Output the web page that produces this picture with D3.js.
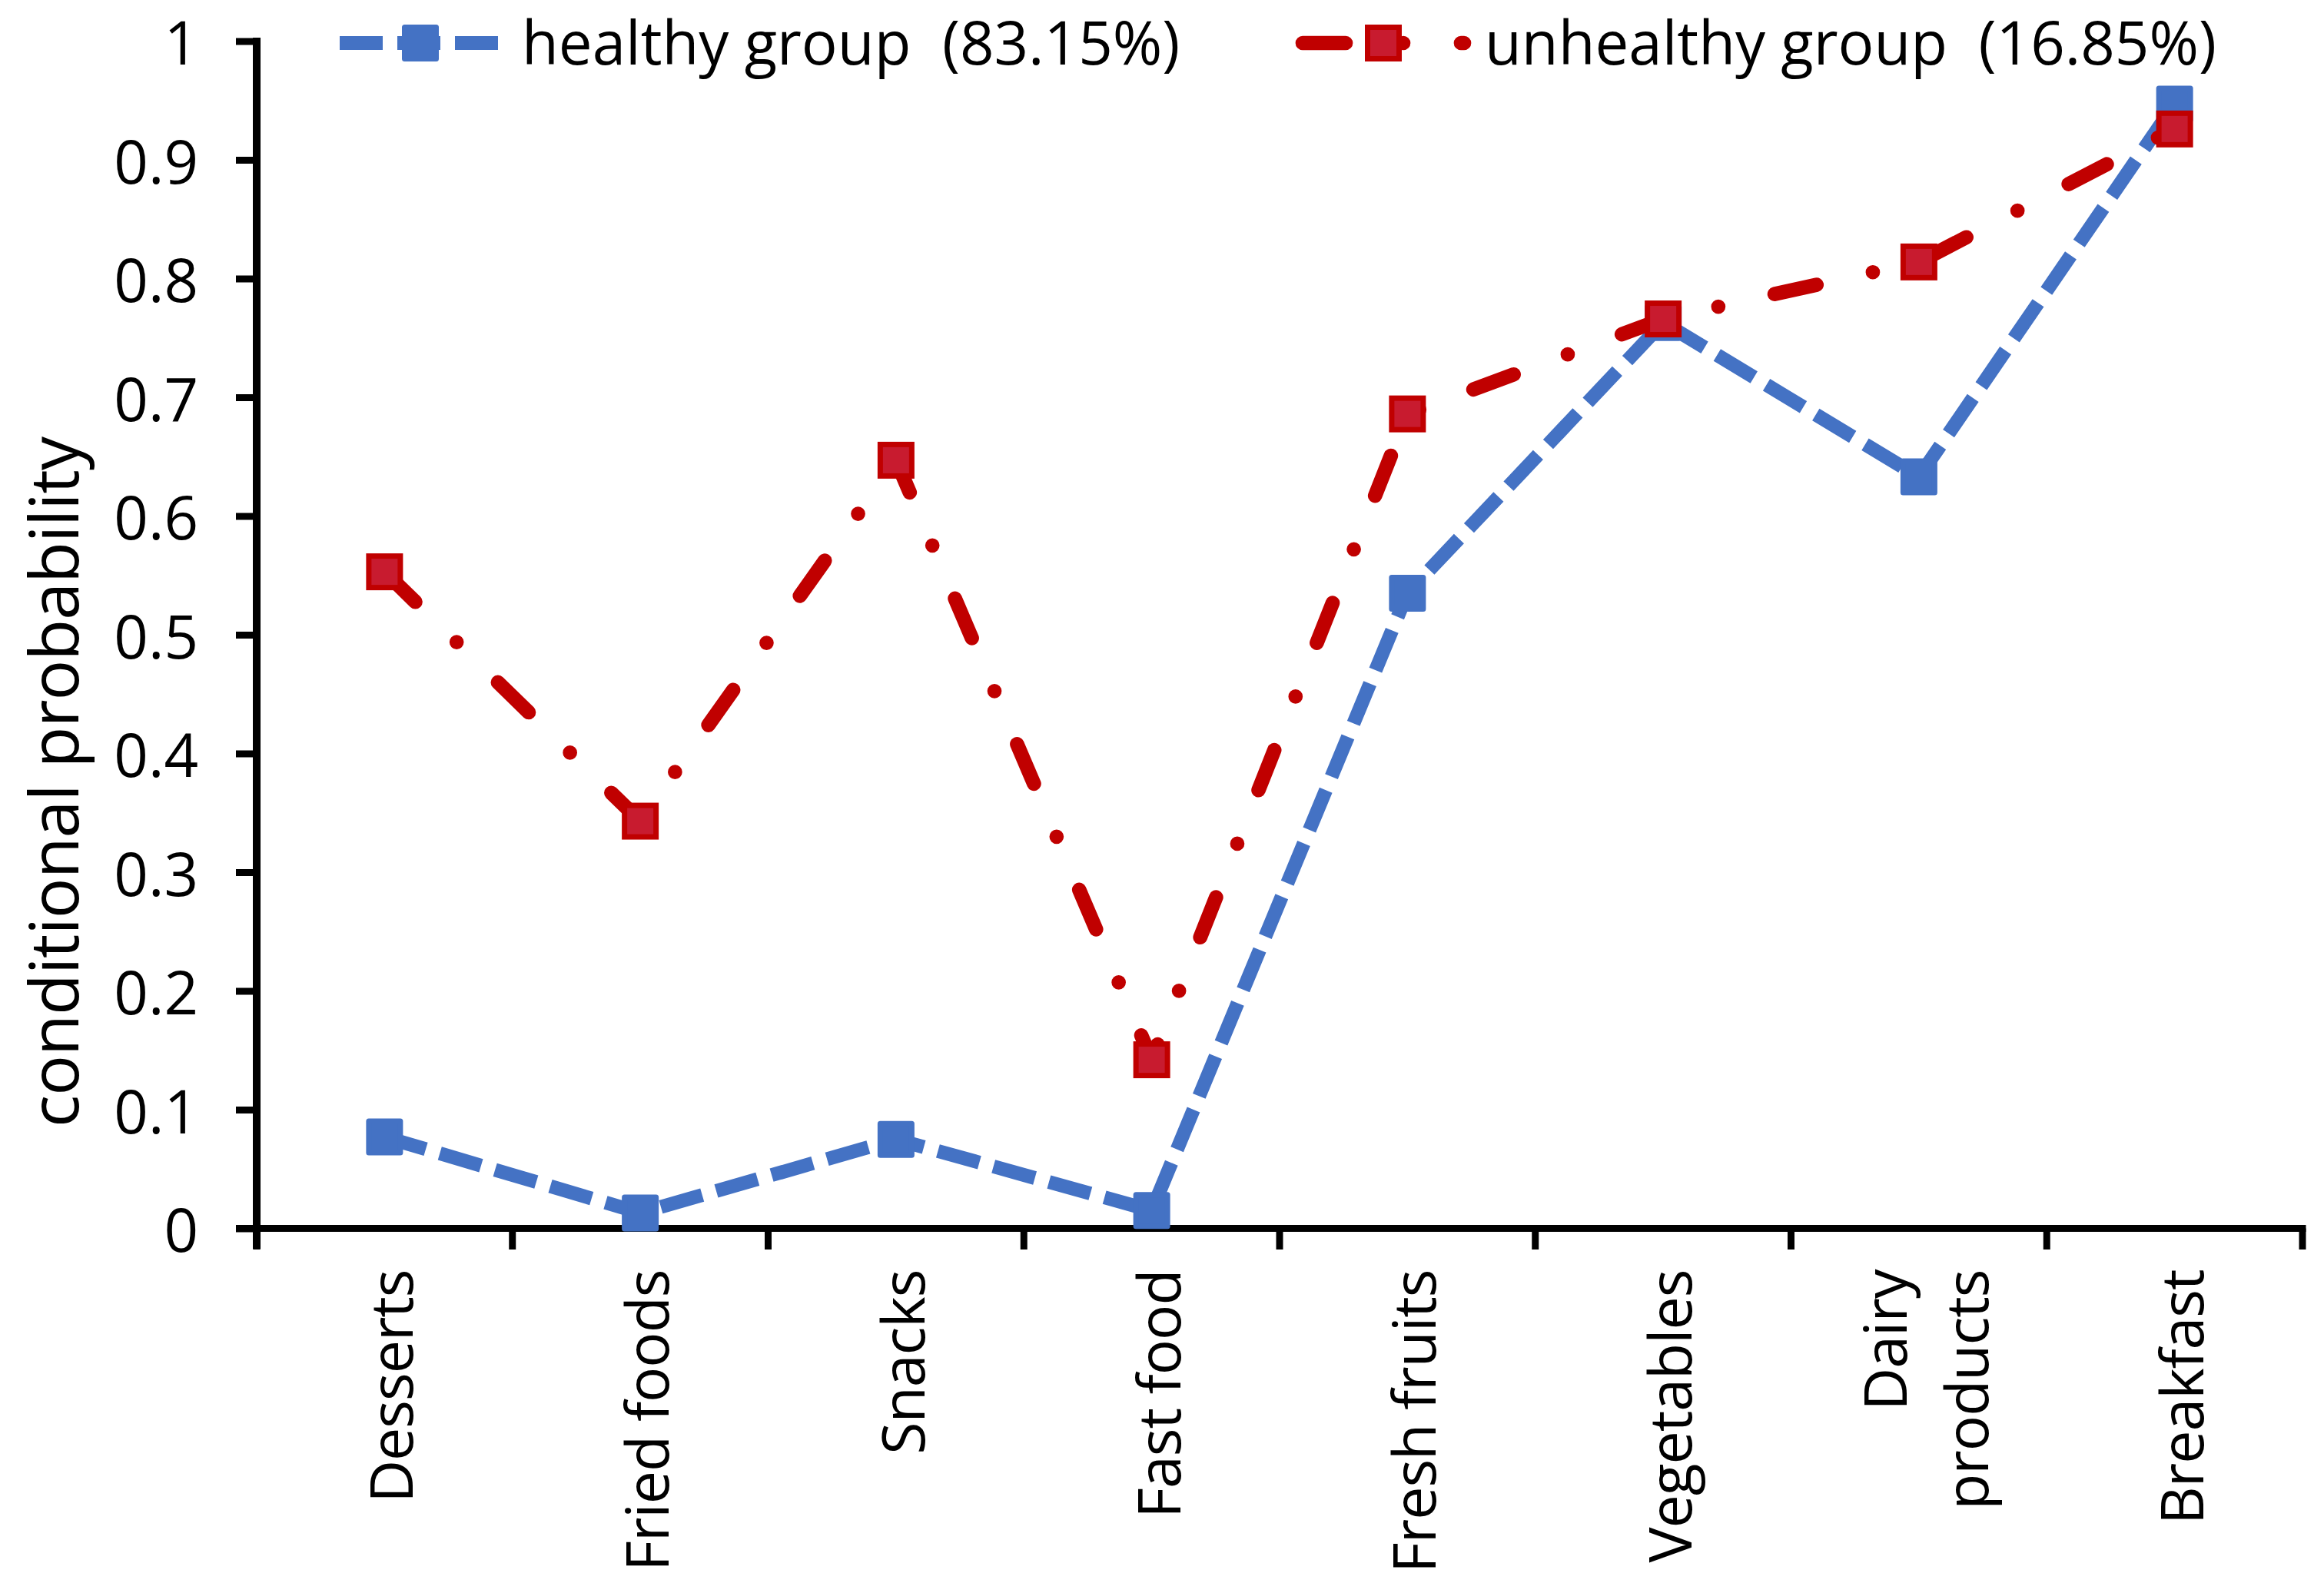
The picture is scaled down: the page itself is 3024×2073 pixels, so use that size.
<!DOCTYPE html>
<html lang="en">
<head>
  <meta charset="UTF-8">
  <title>Conditional probability by group</title>
  <script src="https://d3js.org/d3.v7.min.js"></script>
  <style>
    html, body {
      margin: 0;
      padding: 0;
      background: white;
    }
    svg {
      display: block;
      font-family: "Open Sans", "Noto Sans", sans-serif;
    }
    .cat-label {
      font-size: 77px;
      letter-spacing: -1px;
      fill: black;
    }
    .tick-label {
      font-size: 78px;
      fill: black;
    }
    .legend-text {
      font-size: 78px;
      white-space: pre;
      fill: black;
    }
    .y-title {
      font-size: 88px;
      letter-spacing: -1px;
    }
  </style>
</head>
<body>
  <svg id="chart"></svg>
  <script>
    const categories = ["Desserts", "Fried foods", "Snacks", "Fast food",
      "Fresh fruits", "Vegetables", "Dairy products", "Breakfast"];
    const healthy = [0.077, 0.013, 0.075, 0.015, 0.535, 0.763, 0.633, 0.947];
    const unhealthy = [0.553, 0.343, 0.647, 0.142, 0.686, 0.766, 0.814, 0.926];
    const seriesNames = ["healthy group  (83.15%)", "unhealthy group  (16.85%)"];
    const yTicks = [0, 0.1, 0.2, 0.3, 0.4, 0.5, 0.6, 0.7, 0.8, 0.9, 1];
    const yTitle = "conditional probability";

    const width = 3024;
    const height = 2073;
    const margin = { top: 53.5, right: 28, bottom: 474.5, left: 334 };

    const blue = "#4472C4";
    const red = "#C00000";
    const redFill = "#C81B2F";

    const svg = d3.select("#chart")
      .attr("width", width)
      .attr("height", height);

    const x = d3.scaleBand()
      .domain(categories)
      .range([margin.left, width - margin.right]);
    const y = d3.scaleLinear()
      .domain([0, 1])
      .range([height - margin.bottom, margin.top]);

    // y axis
    const yAxis = svg.append("g")
      .attr("transform", `translate(${margin.left},0)`)
      .call(d3.axisLeft(y).tickValues(yTicks).tickSize(27).tickPadding(49)
        .tickFormat(d => d3.format("~g")(d)))
      .attr("font-family", null)
      .attr("font-size", null);
    yAxis.select(".domain").remove();
    yAxis.selectAll(".tick line").attr("stroke", "black").attr("stroke-width", 9);
    yAxis.selectAll(".tick text")
      .attr("class", "tick-label")
      .attr("dy", 30);
    yAxis.append("line")
      .attr("x1", 0).attr("x2", 0)
      .attr("y1", y(1) - 4.5).attr("y2", y(0) + 27)
      .attr("stroke", "black").attr("stroke-width", 10);

    // x axis with ticks on category boundaries
    const edges = categories.map(c => x(c)).concat([x.range()[1]]);
    const xAxis = svg.append("g");
    xAxis.append("line")
      .attr("x1", margin.left - 27).attr("x2", x.range()[1] + 4.5)
      .attr("y1", y(0)).attr("y2", y(0))
      .attr("stroke", "black").attr("stroke-width", 9);
    xAxis.selectAll(".xtick").data(edges).join("line")
      .attr("class", "xtick")
      .attr("x1", d => d).attr("x2", d => d)
      .attr("y1", y(0)).attr("y2", y(0) + 27.5)
      .attr("stroke", "black").attr("stroke-width", 9);

    const catLabels = xAxis.selectAll(".cat-label").data(categories).join("text")
      .attr("class", "cat-label")
      .attr("text-anchor", "end")
      .attr("transform", d => `translate(${x(d) + x.bandwidth() / 2},${y(0) + 54}) rotate(-90)`);

    // wrap a label onto two lines when it is longer than the space under the axis
    catLabels.each(function(d) {
      const t = d3.select(this);
      t.text(d);
      const words = d.split(" ");
      if (this.getComputedTextLength() > 420 && words.length > 1) {
        t.text(null);
        const lines = [words.slice(0, -1).join(" "), words[words.length - 1]];
        lines.forEach((line, i) => {
          t.append("tspan")
            .attr("x", 0)
            .attr("y", 37 + (i - 0.5) * 106)
            .text(line);
        });
      } else {
        t.attr("y", 37);
      }
    });

    svg.append("text")
      .attr("class", "y-title")
      .attr("text-anchor", "middle")
      .attr("transform", "translate(102,1018) rotate(-90)")
      .text(yTitle);

    // series
    const series = [
      { name: seriesNames[0], values: healthy, stroke: blue, fill: blue,
        width: 18, dash: "56 19", cap: "butt" },
      { name: seriesNames[1], values: unhealthy, stroke: red, fill: redFill,
        width: 18.7, dash: "56 75 0 75", cap: "round" }
    ];

    const line = d3.line()
      .x((d, i) => x(categories[i]) + x.bandwidth() / 2)
      .y(d => y(d));

    const markerSize = 41;

    series.forEach(s => {
      const g = svg.append("g");
      g.append("path")
        .datum(s.values)
        .attr("d", line)
        .attr("fill", "none")
        .attr("stroke", s.stroke)
        .attr("stroke-width", s.width)
        .attr("stroke-dasharray", s.dash)
        .attr("stroke-linecap", s.cap)
        .attr("stroke-linejoin", "round");
      g.selectAll("rect").data(s.values).join("rect")
        .attr("x", (d, i) => x(categories[i]) + x.bandwidth() / 2 - markerSize / 2)
        .attr("y", d => y(d) - markerSize / 2)
        .attr("width", markerSize)
        .attr("height", markerSize)
        .attr("fill", s.fill)
        .attr("stroke", s.stroke)
        .attr("stroke-width", 7)
        .attr("stroke-linejoin", s.cap === "round" ? "miter" : "round");
    });

    // legend
    const legendPos = [547, 1800];
    const legend = svg.append("g");
    series.forEach((s, i) => {
      const cx = legendPos[i];
      const cy = 56;
      legend.append("line")
        .attr("x1", cx - 105).attr("x2", cx + 105)
        .attr("y1", cy).attr("y2", cy)
        .attr("stroke", s.stroke)
        .attr("stroke-width", s.width)
        .attr("stroke-dasharray", s.dash)
        .attr("stroke-linecap", s.cap);
      legend.append("rect")
        .attr("x", cx - markerSize / 2).attr("y", cy - markerSize / 2)
        .attr("width", markerSize).attr("height", markerSize)
        .attr("fill", s.fill)
        .attr("stroke", s.stroke)
        .attr("stroke-width", 7)
        .attr("stroke-linejoin", s.cap === "round" ? "miter" : "round");
      legend.append("text")
        .attr("class", "legend-text")
        .attr("x", cx + 132)
        .attr("y", 84)
        .text(s.name);
    });
  </script>
</body>
</html>
